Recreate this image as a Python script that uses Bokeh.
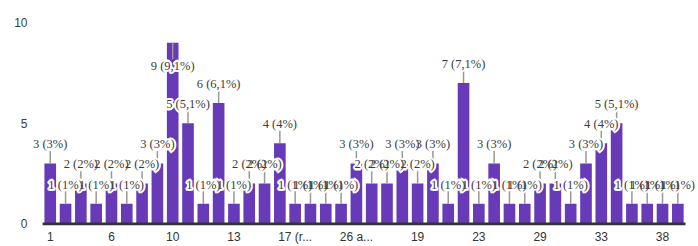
from bokeh.plotting import figure
from bokeh.models import ColumnDataSource, FixedTicker, Range1d, LabelSet
from bokeh.embed import file_html
from bokeh.resources import INLINE

# ---- data ----
counts = [3, 1, 2, 1, 2, 1, 2, 3, 9, 5, 1, 6, 1, 2, 2, 4, 1, 1, 1, 1, 3,
          2, 2, 3, 2, 3, 1, 7, 1, 3, 1, 1, 2, 2, 1, 3, 4, 5, 1, 1, 1, 1]
tick_labels = ["1", "6", "10", "13", "17 (r...", "26 a...", "19", "23", "29", "33", "38"]
tick_every = 4
y_ticks = [0, 5, 10]
y_max = 10

BAR = "#673ab7"
TXT = "#3c3c3c"
FONT = "Liberation Sans"

n = len(counts)
total = sum(counts)
xs = list(range(1, n + 1))


def fmt(v):
    pct = round(v / total * 100, 1)
    s = f"{pct:.1f}".rstrip("0").rstrip(".").replace(".", ",")
    return f"{v} ({s}%)"


labels = [fmt(v) for v in counts]
inside = [v + 1.3 > y_max for v in counts]
label_y = [v - 1.15 if ins else v + 0.95 for v, ins in zip(counts, inside)]
stem_end = [ly + 0.33 if ins else ly - 0.33 for ly, ins in zip(label_y, inside)]

src = ColumnDataSource(dict(x=xs, top=counts, label=labels, ly=label_y, se=stem_end))

# extra room left/right of the bars so that end labels are not clipped
pad_l, pad_r = 1.29, 1.35
p = figure(width=698, height=246, output_backend="svg", toolbar_location=None,
           x_range=Range1d(1 - pad_l, n + pad_r), y_range=Range1d(-0.08, y_max),
           min_border_left=30, min_border_right=0, min_border_top=22, min_border_bottom=10)
p.outline_line_color = None
p.background_fill_color = "white"
p.border_fill_color = "white"
p.grid.visible = False

p.vbar(x="x", top="top", bottom=0, width=0.76, source=src, fill_color=BAR, line_color=None)
# baseline under the bars
p.segment(x0=[0.5], y0=[0], x1=[n + 0.5], y1=[0], line_color="#333333", line_width=3)
p.segment(x0="x", y0="top", x1="x", y1="se", source=src, line_color="#999999", line_width=1.5)

# white halo behind each label (several offset copies)
halo_offsets = [(-1.5, 0), (1.5, 0), (0, -1.5), (0, 1.5), (-1, -1), (1, 1), (-1, 1), (1, -1)]
for dx, dy in halo_offsets:
    p.add_layout(LabelSet(x="x", y="ly", text="label", source=src, x_offset=dx, y_offset=dy,
                          text_align="center", text_baseline="middle",
                          text_font=FONT, text_font_size="12.5px",
                          text_color="white", text_outline_color="white"))
p.add_layout(LabelSet(x="x", y="ly", text="label", source=src,
                      text_align="center", text_baseline="middle",
                      text_font=FONT, text_font_size="12.5px", text_color=TXT))

xa = p.xaxis[0]
xa.ticker = FixedTicker(ticks=[1 + tick_every * i for i in range(len(tick_labels))])
xa.major_label_overrides = {1 + tick_every * i: t for i, t in enumerate(tick_labels)}
xa.axis_line_color = None
xa.major_tick_line_color = None
xa.minor_tick_line_color = None
xa.major_tick_out = 0
xa.major_tick_in = 0
xa.major_label_standoff = 4
xa.major_label_text_font = FONT
xa.major_label_text_font_size = "12px"
xa.major_label_text_color = "#333333"

ya = p.yaxis[0]
ya.ticker = FixedTicker(ticks=y_ticks)
ya.axis_line_color = None
ya.major_tick_line_color = None
ya.minor_tick_line_color = None
ya.major_tick_out = 0
ya.major_tick_in = 0
ya.major_label_standoff = 3
ya.major_label_text_font = FONT
ya.major_label_text_font_size = "12px"
ya.major_label_text_color = TXT

open("out.html", "w").write(file_html(p, INLINE))
